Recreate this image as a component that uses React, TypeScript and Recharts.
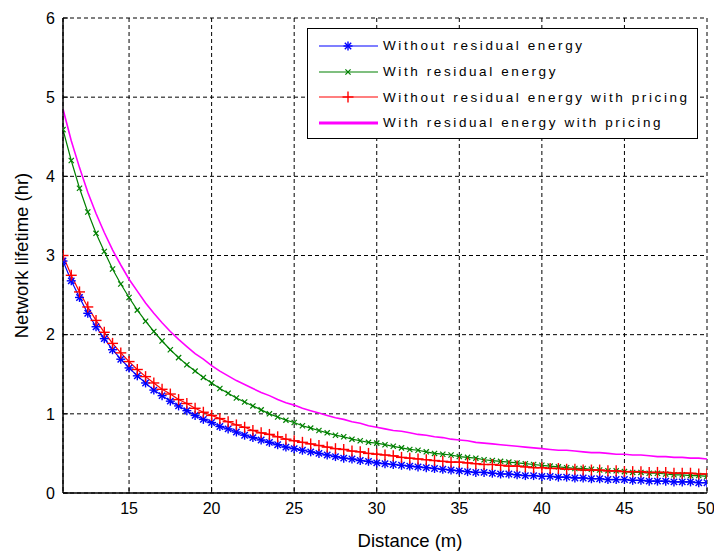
import { LineChart, Line, XAxis, YAxis, CartesianGrid, Legend } from 'recharts';

const distance = [
  11, 11.5, 12, 12.5, 13, 13.5, 14, 14.5, 15, 15.5, 16, 16.5, 17, 17.5, 18, 18.5, 19, 19.5, 20, 20.5,
  21, 21.5, 22, 22.5, 23, 23.5, 24, 24.5, 25, 25.5, 26, 26.5, 27, 27.5, 28, 28.5, 29, 29.5, 30, 30.5,
  31, 31.5, 32, 32.5, 33, 33.5, 34, 34.5, 35, 35.5, 36, 36.5, 37, 37.5, 38, 38.5, 39, 39.5, 40, 40.5,
  41, 41.5, 42, 42.5, 43, 43.5, 44, 44.5, 45, 45.5, 46, 46.5, 47, 47.5, 48, 48.5, 49, 49.5, 50,
];

const withoutResidual = [
  2.93, 2.68, 2.47, 2.27, 2.10, 1.95, 1.81, 1.69, 1.58, 1.48, 1.39, 1.30, 1.23, 1.16, 1.10, 1.04, 0.98, 0.93, 0.89, 0.84,
  0.81, 0.77, 0.73, 0.70, 0.67, 0.64, 0.61, 0.58, 0.56, 0.54, 0.52, 0.50, 0.48, 0.46, 0.44, 0.43, 0.41, 0.40, 0.38, 0.37,
  0.36, 0.35, 0.34, 0.33, 0.32, 0.31, 0.30, 0.29, 0.28, 0.27, 0.26, 0.26, 0.25, 0.24, 0.24, 0.23, 0.22, 0.22, 0.21, 0.21,
  0.20, 0.20, 0.19, 0.19, 0.18, 0.18, 0.17, 0.17, 0.17, 0.16, 0.16, 0.15, 0.15, 0.15, 0.14, 0.14, 0.14, 0.13, 0.13,
];

const withResidual = [
  4.59, 4.20, 3.85, 3.55, 3.28, 3.05, 2.83, 2.64, 2.47, 2.31, 2.17, 2.04, 1.92, 1.81, 1.71, 1.62, 1.54, 1.46, 1.39, 1.32,
  1.26, 1.20, 1.15, 1.10, 1.05, 1.00, 0.96, 0.92, 0.89, 0.85, 0.82, 0.79, 0.76, 0.73, 0.71, 0.68, 0.66, 0.64, 0.63, 0.61,
  0.59, 0.57, 0.55, 0.54, 0.52, 0.50, 0.49, 0.48, 0.46, 0.45, 0.44, 0.42, 0.41, 0.40, 0.39, 0.38, 0.37, 0.36, 0.35, 0.34,
  0.33, 0.32, 0.31, 0.31, 0.30, 0.29, 0.28, 0.28, 0.27, 0.26, 0.26, 0.25, 0.25, 0.24, 0.23, 0.23, 0.22, 0.22, 0.21,
];

const withoutResidualPricing = [
  3.00, 2.75, 2.54, 2.35, 2.18, 2.03, 1.89, 1.77, 1.66, 1.56, 1.47, 1.39, 1.31, 1.25, 1.18, 1.13, 1.07, 1.02, 0.98, 0.94,
  0.90, 0.86, 0.83, 0.79, 0.76, 0.74, 0.71, 0.68, 0.66, 0.64, 0.62, 0.60, 0.58, 0.56, 0.55, 0.53, 0.52, 0.50, 0.49, 0.48,
  0.47, 0.45, 0.44, 0.43, 0.42, 0.41, 0.40, 0.39, 0.39, 0.38, 0.37, 0.36, 0.36, 0.35, 0.34, 0.34, 0.33, 0.32, 0.32, 0.31,
  0.31, 0.30, 0.30, 0.29, 0.29, 0.29, 0.28, 0.28, 0.27, 0.27, 0.27, 0.26, 0.26, 0.26, 0.25, 0.25, 0.25, 0.24, 0.24,
];

const withResidualPricing = [
  4.85, 4.45, 4.11, 3.80, 3.53, 3.29, 3.07, 2.88, 2.70, 2.55, 2.40, 2.27, 2.15, 2.04, 1.94, 1.85, 1.76, 1.69, 1.61, 1.54,
  1.48, 1.42, 1.37, 1.32, 1.27, 1.23, 1.18, 1.14, 1.11, 1.07, 1.04, 1.01, 0.98, 0.95, 0.93, 0.90, 0.88, 0.85, 0.83, 0.81,
  0.79, 0.78, 0.76, 0.74, 0.73, 0.71, 0.70, 0.68, 0.67, 0.66, 0.64, 0.63, 0.62, 0.61, 0.60, 0.59, 0.58, 0.57, 0.56, 0.55,
  0.54, 0.54, 0.53, 0.52, 0.51, 0.51, 0.50, 0.49, 0.49, 0.48, 0.48, 0.47, 0.46, 0.46, 0.45, 0.45, 0.44, 0.44, 0.43,
];

const xTicks = [15, 20, 25, 30, 35, 40, 45, 50];
const yTicks = [0, 1, 2, 3, 4, 5, 6];

const seriesNames = [
  'Without residual energy',
  'With residual energy',
  'Without residual energy with pricing',
  'With residual energy with pricing',
];

const data = distance.map((d, i) => ({
  d,
  a: withoutResidual[i],
  b: withResidual[i],
  c: withoutResidualPricing[i],
  e: withResidualPricing[i],
}));

const BLUE = '#0000ff';
const GREEN = '#008000';
const RED = '#ff0000';
const MAGENTA = '#ff00ff';

// matlab-ish marker shapes
function Star({ cx, cy, color }: any) {
  const r = 4.5;
  const k = 3.2;
  return (
    <g stroke={color} strokeWidth={1.4}>
      <line x1={cx - r} y1={cy} x2={cx + r} y2={cy} />
      <line x1={cx} y1={cy - r} x2={cx} y2={cy + r} />
      <line x1={cx - k} y1={cy - k} x2={cx + k} y2={cy + k} />
      <line x1={cx - k} y1={cy + k} x2={cx + k} y2={cy - k} />
    </g>
  );
}

function Cross({ cx, cy, color }: any) {
  const k = 2.6;
  return (
    <g stroke={color} strokeWidth={1.2}>
      <line x1={cx - k} y1={cy - k} x2={cx + k} y2={cy + k} />
      <line x1={cx - k} y1={cy + k} x2={cx + k} y2={cy - k} />
    </g>
  );
}

function Plus({ cx, cy, color }: any) {
  const r = 5.5;
  return (
    <g stroke={color} strokeWidth={1.4}>
      <line x1={cx - r} y1={cy} x2={cx + r} y2={cy} />
      <line x1={cx} y1={cy - r} x2={cx} y2={cy + r} />
    </g>
  );
}

const renderStar = (p: any) => <Star key={`s-${p.index}`} cx={p.cx} cy={p.cy} color={BLUE} />;
const renderCross = (p: any) => <Cross key={`x-${p.index}`} cx={p.cx} cy={p.cy} color={GREEN} />;
const renderPlus = (p: any) => <Plus key={`p-${p.index}`} cx={p.cx} cy={p.cy} color={RED} />;

function LegendBox() {
  const rows = [
    { color: BLUE, marker: 'star', w: 1.2 },
    { color: GREEN, marker: 'cross', w: 1.2 },
    { color: RED, marker: 'plus', w: 1.2 },
    { color: MAGENTA, marker: null, w: 3 },
  ];
  return (
    <div
      style={{
        width: 391,
        height: 111,
        border: '1.5px solid #000',
        background: '#fff',
        boxSizing: 'border-box',
        paddingTop: 4,
        fontFamily: 'Liberation Sans, Arial, sans-serif',
        fontSize: 13.5,
        letterSpacing: 2.6,
        color: '#000',
      }}
    >
      {rows.map((r, i) => (
        <div key={i} style={{ display: 'flex', alignItems: 'center', height: 25.7 }}>
          <svg width={75} height={20} style={{ flex: 'none' }}>
            <line x1={11} y1={10} x2={70} y2={10} stroke={r.color} strokeWidth={r.w} />
            {r.marker === 'star' && <Star cx={40} cy={10} color={r.color} />}
            {r.marker === 'cross' && <Cross cx={40} cy={10} color={r.color} />}
            {r.marker === 'plus' && <Plus cx={40} cy={10} color={r.color} />}
          </svg>
          <span style={{ whiteSpace: 'nowrap' }}>{seriesNames[i]}</span>
        </div>
      ))}
    </div>
  );
}

const tickStyle = { fontFamily: 'Liberation Sans, Arial, sans-serif', fontSize: 16, fill: '#000' };
const labelStyle = { fontFamily: 'Liberation Sans, Arial, sans-serif', fontSize: 18.5, fill: '#000' };

export default function App() {
  return (
    <div style={{ position: 'absolute', left: 0, top: 0, width: 714, height: 554, background: '#fff' }}>
      <LineChart width={714} height={554} data={data} margin={{ top: 18, right: 7, bottom: 31, left: 0 }}>
        <CartesianGrid stroke="#000" strokeDasharray="4 3" strokeWidth={1} />
        <XAxis
          dataKey="d"
          type="number"
          domain={[11, 50]}
          ticks={xTicks}
          allowDataOverflow
          height={30}
          tick={tickStyle}
          tickLine={{ stroke: '#000' }}
          tickSize={-5}
          tickMargin={15}
          axisLine={{ stroke: '#000', strokeWidth: 1.5 }}
          label={{ value: 'Distance (m)', position: 'bottom', offset: 11, dx: 25, style: labelStyle }}
        />
        <YAxis
          type="number"
          domain={[0, 6]}
          ticks={yTicks}
          width={63}
          tick={tickStyle}
          tickLine={{ stroke: '#000' }}
          tickSize={-5}
          tickMargin={13}
          axisLine={{ stroke: '#000', strokeWidth: 1.5 }}
          label={{
            value: 'Network lifetime (hr)',
            angle: -90,
            position: 'insideLeft',
            offset: 21,
            style: { ...labelStyle, textAnchor: 'middle' },
          }}
        />
        <Legend
          layout="vertical"
          align="center"
          verticalAlign="middle"
          wrapperStyle={{ position: 'absolute', left: 307, top: 28, width: 391 }}
          content={() => <LegendBox />}
        />
        <Line dataKey="a" stroke={BLUE} strokeWidth={1.2} dot={renderStar} isAnimationActive={false} />
        <Line dataKey="b" stroke={GREEN} strokeWidth={1.2} dot={renderCross} isAnimationActive={false} />
        <Line dataKey="c" stroke={RED} strokeWidth={1.2} dot={renderPlus} isAnimationActive={false} />
        <Line dataKey="e" stroke={MAGENTA} strokeWidth={1.6} dot={false} isAnimationActive={false} />
      </LineChart>
    </div>
  );
}
